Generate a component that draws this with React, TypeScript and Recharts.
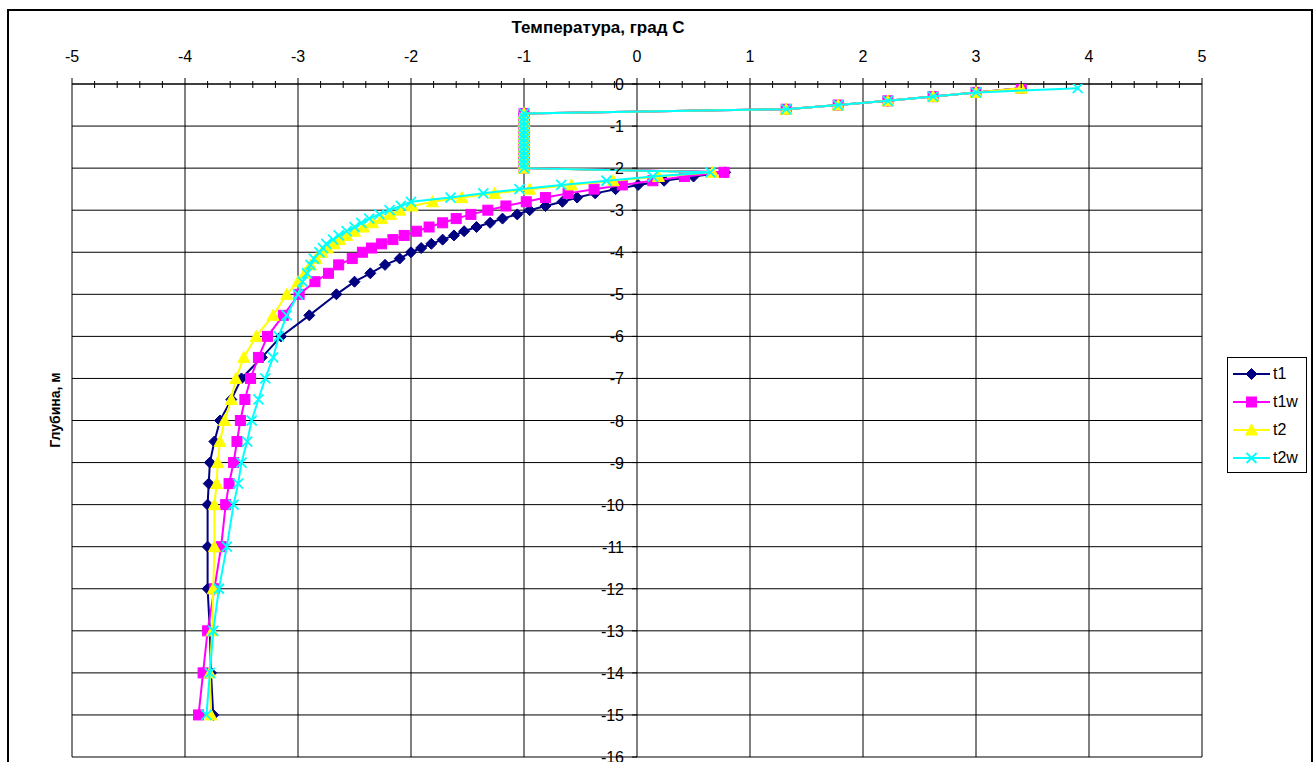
import { ScatterChart, Scatter, XAxis, YAxis, ReferenceLine, Legend } from 'recharts';

// Глубина, м (общая для всех рядов)
const DEPTH = [
  -0.1, -0.2, -0.3, -0.4, -0.5, -0.6,
  -0.7, -0.8, -0.9, -1.0, -1.1, -1.2, -1.3, -1.4, -1.5, -1.6, -1.7, -1.8, -1.9, -2.0,
  -2.1, -2.2, -2.3, -2.4, -2.5, -2.6, -2.7, -2.8, -2.9, -3.0,
  -3.1, -3.2, -3.3, -3.4, -3.5, -3.6, -3.7, -3.8, -3.9, -4.0,
  -4.15, -4.3, -4.5, -4.7, -5.0,
  -5.5, -6, -6.5, -7, -7.5, -8, -8.5, -9, -9.5, -10,
  -11, -12, -13, -14, -15,
];

// Температура, град С
const T1 = [
  3.4, 3.0, 2.62, 2.22, 1.78, 1.32,
  -1, -1, -1, -1, -1, -1, -1, -1, -1, -1, -1, -1, -1, -1,
  0.78, 0.5, 0.24, 0.01, -0.19, -0.37, -0.53, -0.66, -0.81, -0.95,
  -1.06, -1.19, -1.3, -1.42, -1.53, -1.62, -1.72, -1.82, -1.91, -2.0,
  -2.1, -2.23, -2.36, -2.5, -2.66,
  -2.9, -3.15, -3.32, -3.5, -3.59, -3.69, -3.74, -3.78, -3.79, -3.8,
  -3.8, -3.8, -3.78, -3.77, -3.75,
];
const T1W = [
  3.4, 3.0, 2.62, 2.22, 1.78, 1.32,
  -1, -1, -1, -1, -1, -1, -1, -1, -1, -1, -1, -1, -1, -1,
  0.77, 0.42, 0.14, -0.13, -0.38, -0.61, -0.81, -0.98, -1.16, -1.32,
  -1.47, -1.6, -1.72, -1.84, -1.95, -2.06, -2.16, -2.26, -2.35, -2.43,
  -2.52, -2.64, -2.73, -2.85, -2.99,
  -3.13, -3.27, -3.35, -3.42, -3.47, -3.51, -3.54, -3.57, -3.61, -3.64,
  -3.68, -3.74, -3.8, -3.84, -3.88,
];
const T2 = [
  3.4, 3.0, 2.62, 2.22, 1.78, 1.32,
  -1, -1, -1, -1, -1, -1, -1, -1, -1, -1, -1, -1, -1, -1,
  0.67, 0.19, -0.21, -0.58, -0.95, -1.26, -1.55, -1.81, -1.99, -2.1,
  -2.18, -2.26, -2.34, -2.42, -2.5, -2.57, -2.63, -2.68, -2.74, -2.79,
  -2.84, -2.89, -2.94, -3.0, -3.1,
  -3.22, -3.37, -3.48, -3.55, -3.59, -3.65, -3.69, -3.71, -3.72, -3.74,
  -3.74, -3.75, -3.76, -3.78, -3.77,
];
const T2W = [
  3.9, 3.0, 2.62, 2.22, 1.78, 1.32,
  -1, -1, -1, -1, -1, -1, -1, -1, -1, -1, -1, -1, -1, -1,
  0.65, 0.14, -0.27, -0.67, -1.04, -1.36, -1.65, -2.0, -2.09, -2.19,
  -2.28, -2.37, -2.44, -2.5, -2.57, -2.64, -2.69, -2.75, -2.78, -2.81,
  -2.86, -2.89, -2.92, -2.96, -3.0,
  -3.1, -3.17, -3.22, -3.29, -3.35, -3.41, -3.45, -3.5, -3.53, -3.57,
  -3.63, -3.7, -3.75, -3.78, -3.81,
];

const X_TICKS = [-5, -4, -3, -2, -1, 0, 1, 2, 3, 4, 5];
const Y_TICKS = [0, -1, -2, -3, -4, -5, -6, -7, -8, -9, -10, -11, -12, -13, -14, -15, -16];

// малые деления по 0.2
const X_MINOR = X_TICKS.slice(0, -1).flatMap((v) => [0.2, 0.4, 0.6, 0.8].map((f) => +(v + f).toFixed(1)));
const X_ALL = [...X_TICKS, ...X_MINOR].sort((a, b) => a - b);

const W = 1313;
const H = 762;
const MARGIN = { top: 54, right: 111, bottom: 5, left: 62 };
const X_AXIS_H = 30;
const Y_AXIS_W = 10;
const PLOT_LEFT = MARGIN.left + Y_AXIS_W;
const PLOT_TOP = MARGIN.top + X_AXIS_H;
const PLOT_W = W - PLOT_LEFT - MARGIN.right;
const ZERO_X = PLOT_LEFT + (PLOT_W * (0 - X_TICKS[0])) / (X_TICKS[X_TICKS.length - 1] - X_TICKS[0]);

const FONT = '"Liberation Sans", Arial, sans-serif';

type Shape = 'diamond' | 'square' | 'triangle' | 'x';

const SERIES: { name: string; color: string; shape: Shape; values: number[] }[] = [
  { name: 't1', color: '#000080', shape: 'diamond', values: T1 },
  { name: 't1w', color: '#FF00FF', shape: 'square', values: T1W },
  { name: 't2', color: '#FFFF00', shape: 'triangle', values: T2 },
  { name: 't2w', color: '#00FFFF', shape: 'x', values: T2W },
];

function Marker({ cx, cy, shape, color }: { cx: number; cy: number; shape: Shape; color: string }) {
  if (cx == null || cy == null) return null;
  if (shape === 'diamond') {
    return <polygon points={`${cx},${cy - 5.5} ${cx + 5.5},${cy} ${cx},${cy + 5.5} ${cx - 5.5},${cy}`} fill={color} stroke={color} />;
  }
  if (shape === 'square') {
    return <rect x={cx - 5} y={cy - 5} width={10} height={10} fill={color} stroke={color} />;
  }
  if (shape === 'triangle') {
    return <polygon points={`${cx},${cy - 6} ${cx + 6},${cy + 5} ${cx - 6},${cy + 5}`} fill={color} stroke={color} />;
  }
  return (
    <path d={`M${cx - 5},${cy - 5}L${cx + 5},${cy + 5}M${cx - 5},${cy + 5}L${cx + 5},${cy - 5}`} stroke={color} strokeWidth={1.8} fill="none" />
  );
}

const XTick = (props: any) => {
  const { x, payload } = props;
  const v = payload.value;
  const major = Math.abs(v - Math.round(v)) < 1e-6;
  return (
    <g>
      <line x1={x} x2={x} y1={PLOT_TOP - (major ? 6 : 3)} y2={PLOT_TOP + (major ? 0 : 4)} stroke="#000" />
      {major && (
        <text x={x} y={PLOT_TOP - 22} textAnchor="middle" fontSize={16} fontFamily={FONT} fill="#000">
          {v}
        </text>
      )}
    </g>
  );
};

const YTick = (props: any) => {
  const { y, payload } = props;
  return (
    <g>
      <line x1={ZERO_X - 5} x2={ZERO_X} y1={y} y2={y} stroke="#000" />
      <text x={ZERO_X - 13} y={y} dy={6} textAnchor="end" fontSize={16} fontFamily={FONT} fill="#000">
        {payload.value}
      </text>
    </g>
  );
};

function LegendBox() {
  return (
    <div style={{ border: '1px solid #000', background: '#fff', width: 78, padding: '2px 0 0 0', fontFamily: FONT, fontSize: 16 }}>
      {SERIES.map((s) => (
        <div key={s.name} style={{ display: 'flex', alignItems: 'center', height: 28 }}>
          <svg width={44} height={16} style={{ display: 'block' }}>
            <line x1={5} x2={42} y1={8} y2={8} stroke={s.color} strokeWidth={2} />
            <Marker cx={23.5} cy={8} shape={s.shape} color={s.color} />
          </svg>
          <span style={{ marginLeft: 1 }}>{s.name}</span>
        </div>
      ))}
    </div>
  );
}

export default function App() {
  return (
    <div style={{ position: 'fixed', inset: 0, overflow: 'hidden', background: '#fff' }}>
      <div
        style={{
          position: 'absolute',
          left: 7,
          top: 9,
          width: 1306,
          height: 800,
          border: '2px solid #000',
          boxSizing: 'border-box',
        }}
      />
      <div style={{ position: 'absolute', left: 0, top: 0 }}>
        <ScatterChart width={W} height={H} margin={MARGIN}>
          <XAxis
            type="number"
            dataKey="x"
            domain={[-5, 5]}
            ticks={X_ALL}
            interval={0}
            orientation="top"
            height={X_AXIS_H}
            axisLine={{ stroke: '#000' }}
            tickLine={false}
            tick={XTick}
            allowDataOverflow
          />
          <YAxis
            type="number"
            dataKey="y"
            domain={[-16, 0]}
            ticks={Y_TICKS}
            interval={0}
            width={Y_AXIS_W}
            axisLine={false}
            tickLine={false}
            tick={YTick}
            allowDataOverflow
          />
          {X_TICKS.map((v) => (
            <ReferenceLine key={`vx${v}`} x={v} stroke="#000" strokeWidth={1} />
          ))}
          {Y_TICKS.map((v) => (
            <ReferenceLine key={`hy${v}`} y={v} stroke="#000" strokeWidth={1} />
          ))}
          {SERIES.map((s) => (
            <Scatter
              key={s.name}
              name={s.name}
              data={DEPTH.map((d, i) => ({ x: s.values[i], y: d }))}
              line={{ stroke: s.color, strokeWidth: 2 }}
              lineType="joint"
              shape={(p: any) => <Marker cx={p.cx} cy={p.cy} shape={s.shape} color={s.color} />}
              isAnimationActive={false}
            />
          ))}
          <Legend
            layout="vertical"
            align="center"
            verticalAlign="middle"
            wrapperStyle={{ left: 1227, top: 357, width: 80 }}
            content={() => <LegendBox />}
          />
        </ScatterChart>
      </div>
      <div
        style={{
          position: 'absolute',
          left: 598,
          top: 28,
          transform: 'translate(-50%, -50%)',
          whiteSpace: 'nowrap',
          fontFamily: FONT,
          fontWeight: 'bold',
          fontSize: 17,
        }}
      >
        Температура, град С
      </div>
      <div
        style={{
          position: 'absolute',
          left: 55,
          top: 410,
          transform: 'translate(-50%, -50%) rotate(-90deg)',
          whiteSpace: 'nowrap',
          fontFamily: FONT,
          fontWeight: 'bold',
          fontSize: 14,
        }}
      >
        Глубина, м
      </div>
    </div>
  );
}
